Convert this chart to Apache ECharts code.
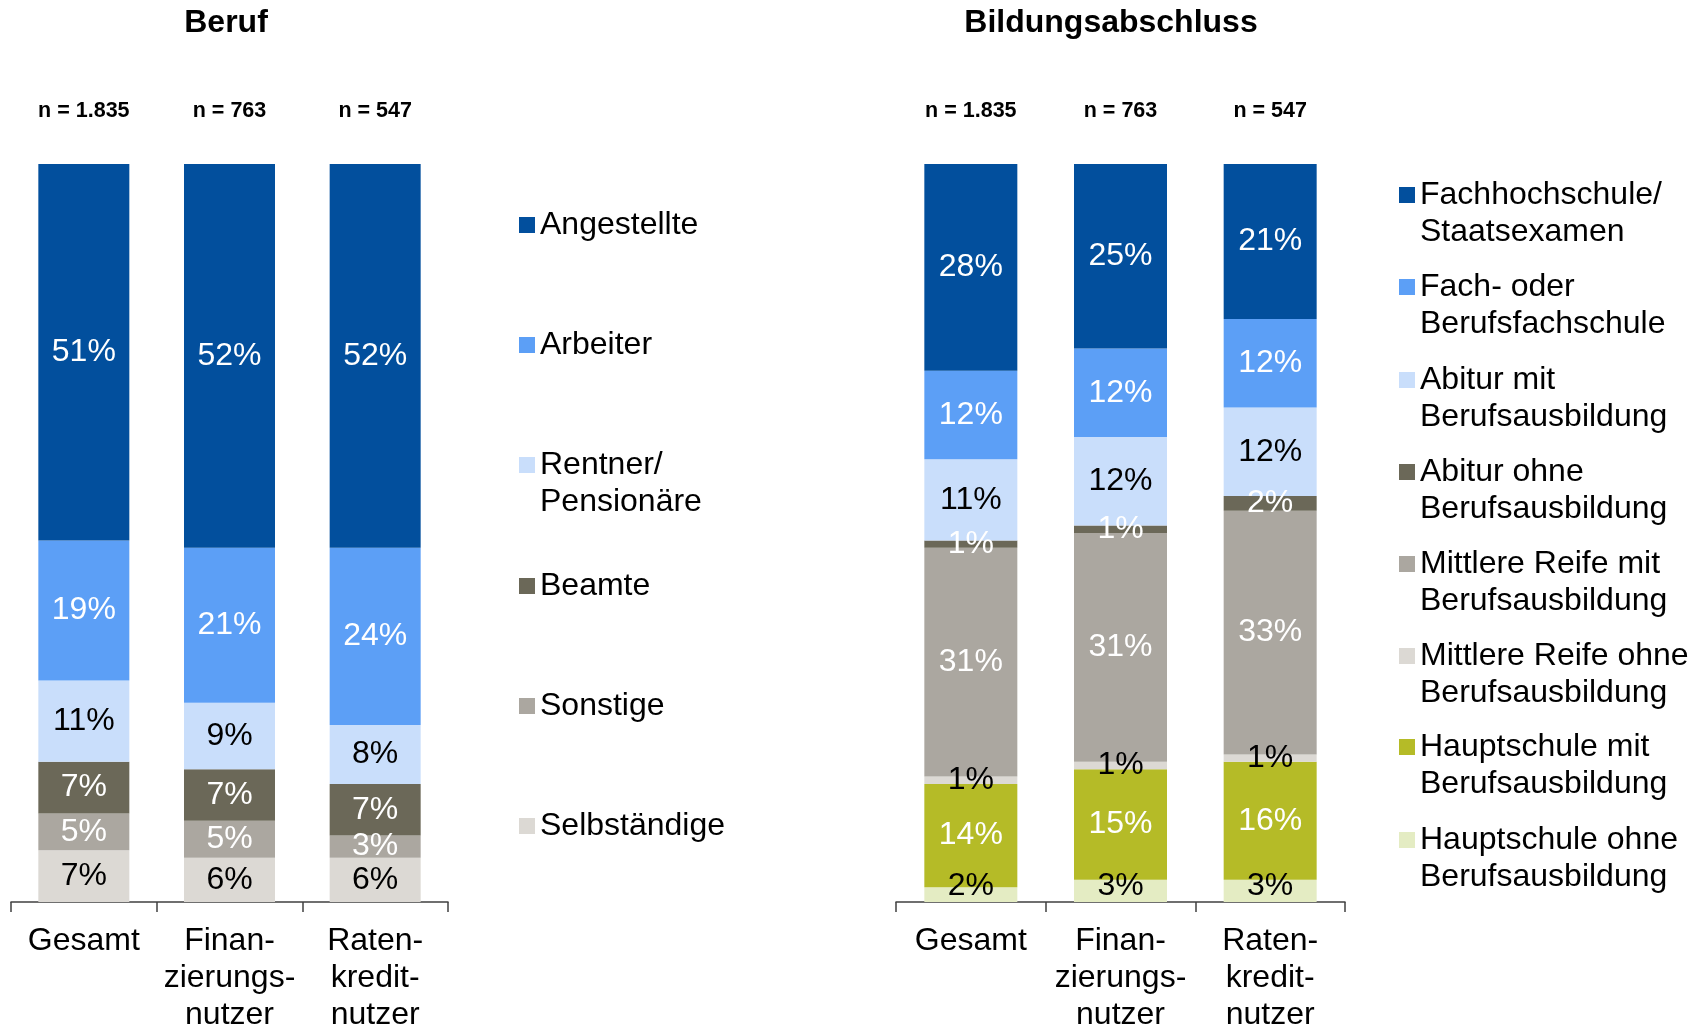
<!DOCTYPE html>
<html>
<head>
<meta charset="utf-8">
<script src="https://cdn.jsdelivr.net/npm/echarts@6/dist/echarts.min.js"></script>
<style>
  html, body { margin: 0; padding: 0; background: #ffffff; }
  #chart { width: 1706px; height: 1029px; }
</style>
</head>
<body>
<div id="chart"></div>
<script>
// Group labels on the category axis and sample sizes above the bars
const categories = ['Gesamt', 'Finan-\nzierungs-\nnutzer', 'Raten-\nkredit-\nnutzer'];
const sampleSizes = ['n = 1.835', 'n = 763', 'n = 547'];

// Beruf (shares in %), listed from the bottom segment upwards
const selbstaendige = [7, 6, 6];
const sonstige = [5, 5, 3];
const beamte = [7, 7, 7];
const rentner = [11, 9, 8];
const arbeiter = [19, 21, 24];
const angestellte = [51, 52, 52];

// Bildungsabschluss (shares in %), listed from the bottom segment upwards
const hauptschuleOhne = [2, 3, 3];
const hauptschuleMit = [14, 15, 16];
const mittlereOhne = [1, 1, 1];
const mittlereMit = [31, 31, 33];
const abiturOhne = [1, 1, 2];
const abiturMit = [11, 12, 12];
const fachOderBerufsfach = [12, 12, 12];
const fachhochschule = [28, 25, 21];

const FONT = '"Liberation Sans", Arial, Helvetica, sans-serif';
const LH = 37;

const C = {
  darkBlue: '#024f9d',
  blue: '#5c9ff6',
  lightBlue: '#c9defb',
  darkGray: '#6b6858',
  gray: '#aba7a0',
  lightGray: '#dcd9d4',
  olive: '#b5bb27',
  paleGreen: '#e4ecc3'
};

function bar(name, data, color, labelColor, axis, opts) {
  opts = opts || {};
  return {
    type: 'bar',
    name: name,
    data: data,
    stack: 'total' + axis,
    xAxisIndex: axis,
    yAxisIndex: axis,
    barWidth: axis === 0 ? 91 : 93,
    itemStyle: { color: color },
    label: {
      show: true,
      position: opts.position || 'inside',
      distance: opts.distance || 0,
      formatter: '{c}%',
      color: labelColor,
      fontFamily: FONT,
      fontSize: 32,
      lineHeight: 32
    },
    emphasis: { disabled: true }
  };
}

const series = [
  bar('Selbständige', selbstaendige, C.lightGray, '#000', 0),
  bar('Sonstige', sonstige, C.gray, '#fff', 0),
  bar('Beamte', beamte, C.darkGray, '#fff', 0),
  bar('Rentner/\nPensionäre', rentner, C.lightBlue, '#000', 0),
  bar('Arbeiter', arbeiter, C.blue, '#fff', 0),
  bar('Angestellte', angestellte, C.darkBlue, '#fff', 0),

  bar('Hauptschule ohne\nBerufsausbildung', hauptschuleOhne, C.paleGreen, '#000', 1, { position: 'insideBottom', distance: 0 }),
  bar('Hauptschule mit\nBerufsausbildung', hauptschuleMit, C.olive, '#fff', 1),
  bar('Mittlere Reife ohne\nBerufsausbildung', mittlereOhne, C.lightGray, '#000', 1),
  bar('Mittlere Reife mit\nBerufsausbildung', mittlereMit, C.gray, '#fff', 1),
  bar('Abitur ohne\nBerufsausbildung', abiturOhne, C.darkGray, '#fff', 1),
  bar('Abitur mit\nBerufsausbildung', abiturMit, C.lightBlue, '#000', 1),
  bar('Fach- oder\nBerufsfachschule', fachOderBerufsfach, C.blue, '#fff', 1),
  bar('Fachhochschule/\nStaatsexamen', fachhochschule, C.darkBlue, '#fff', 1)
];

// One legend block per entry so that each marker sits on the first text line
function legendEntry(name, left, firstLineY) {
  const twoLines = name.indexOf('\n') >= 0;
  return {
    data: [{ name: name, icon: 'rect' }],
    left: left,
    top: firstLineY - (twoLines ? 1.5 : 0.5) * LH,
    orient: 'vertical',
    padding: 0,
    itemWidth: 16,
    itemHeight: 16,
    selectedMode: false,
    formatter: function (n) { return n.indexOf('\n') >= 0 ? '\n' + n : n; },
    textStyle: { fontFamily: FONT, fontSize: 32, lineHeight: LH, color: '#000' }
  };
}

const leftLegendNames = ['Angestellte', 'Arbeiter', 'Rentner/\nPensionäre', 'Beamte', 'Sonstige', 'Selbständige'];
const leftLegendY = [225, 345, 465, 586, 706, 826];
const rightLegendNames = [
  'Fachhochschule/\nStaatsexamen', 'Fach- oder\nBerufsfachschule', 'Abitur mit\nBerufsausbildung',
  'Abitur ohne\nBerufsausbildung', 'Mittlere Reife mit\nBerufsausbildung', 'Mittlere Reife ohne\nBerufsausbildung',
  'Hauptschule mit\nBerufsausbildung', 'Hauptschule ohne\nBerufsausbildung'
];
const rightLegendY = [195, 287, 380, 472, 564, 656, 747, 840];

const legends = [];
leftLegendNames.forEach(function (n, i) { legends.push(legendEntry(n, 519, leftLegendY[i])); });
rightLegendNames.forEach(function (n, i) { legends.push(legendEntry(n, 1399, rightLegendY[i])); });

function bottomAxis(gridIndex) {
  return {
    type: 'category',
    gridIndex: gridIndex,
    data: categories,
    position: 'bottom',
    axisLine: { show: true, lineStyle: { color: '#404040', width: 1.5 } },
    axisTick: { show: true, length: 10, lineStyle: { color: '#404040', width: 1.5 } },
    axisLabel: { fontFamily: FONT, fontSize: 32, lineHeight: LH, color: '#000', margin: 21, interval: 0 },
    splitLine: { show: false }
  };
}

function topAxis(gridIndex) {
  return {
    type: 'category',
    gridIndex: gridIndex,
    data: sampleSizes,
    position: 'top',
    axisLine: { show: false },
    axisTick: { show: false },
    axisLabel: { fontFamily: FONT, fontSize: 21.5, fontWeight: 'bold', lineHeight: 22, color: '#000', margin: 42, interval: 0 },
    splitLine: { show: false }
  };
}

function valueAxis(gridIndex) {
  return { type: 'value', gridIndex: gridIndex, min: 0, max: 100, show: false, splitLine: { show: false } };
}

const option = {
  animation: false,
  backgroundColor: '#ffffff',
  title: [
    { text: 'Beruf', left: 226, top: 7, textAlign: 'center', padding: 0,
      textStyle: { fontFamily: FONT, fontSize: 32, fontWeight: 'bold', color: '#000' } },
    { text: 'Bildungsabschluss', left: 1111, top: 7, textAlign: 'center', padding: 0,
      textStyle: { fontFamily: FONT, fontSize: 32, fontWeight: 'bold', color: '#000' } }
  ],
  legend: legends,
  grid: [
    { left: 11, top: 164, width: 437, height: 738, outerBoundsMode: 'none', containLabel: false },
    { left: 896, top: 164, width: 449, height: 738, outerBoundsMode: 'none', containLabel: false }
  ],
  xAxis: [bottomAxis(0), bottomAxis(1), topAxis(0), topAxis(1)],
  yAxis: [valueAxis(0), valueAxis(1)],
  series: series
};

const chart = echarts.init(document.getElementById('chart'), null, { renderer: 'canvas' });
chart.setOption(option);
</script>
</body>
</html>
